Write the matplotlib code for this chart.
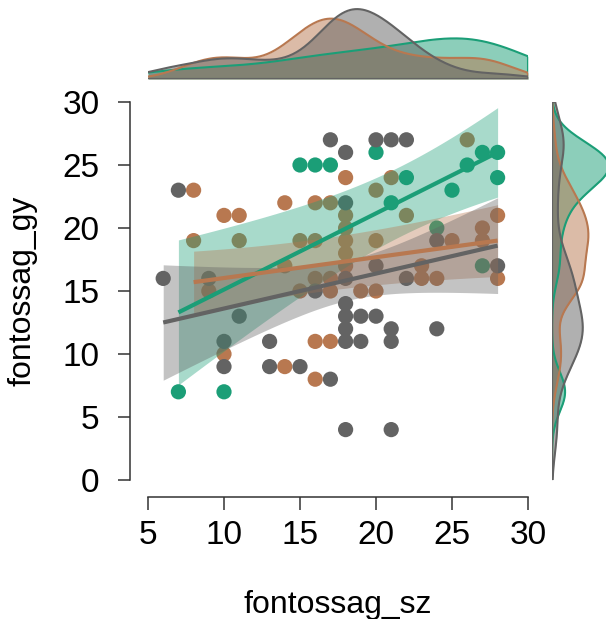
import numpy as np
import matplotlib
matplotlib.use("Agg")
import matplotlib.pyplot as plt

plt.rcParams['font.family'] = ['Liberation Sans', 'DejaVu Sans']

# scatter data (fontossag_sz, fontossag_gy) per group
green_sz = [7, 10, 15, 16, 17, 20, 21, 22, 24, 25, 26, 27, 28, 28, 27]
green_gy = [7, 7, 25, 25, 25, 26, 22, 24, 20, 23, 25, 26, 26, 24, 17]

brown_sz = [8, 10, 11, 14, 16, 17, 18, 21, 8, 11, 15, 16, 18, 18, 18, 18, 20, 20, 22, 26,
            28, 27, 27, 25, 23, 23, 24, 28, 14, 16, 17, 15, 17, 19, 20, 9, 10, 14, 16, 17, 16, 18]
brown_gy = [23, 21, 21, 22, 22, 22, 24, 24, 19, 19, 19, 19, 21, 20, 19, 18, 23, 19, 21, 27,
            21, 20, 19, 19, 17, 16, 16, 16, 17, 16, 16, 15, 15, 15, 15, 15, 10, 9, 11, 11, 8, 17]

gray_sz = [6, 7, 9, 10, 10, 11, 13, 13, 15, 17, 17, 18, 20, 21, 22, 18, 16, 18, 20, 24,
           22, 28, 18, 18, 19, 20, 18, 21, 24, 18, 19, 21, 18, 21]
gray_gy = [16, 23, 16, 11, 9, 13, 11, 9, 9, 8, 27, 26, 27, 27, 27, 22, 15, 16, 17, 19,
           16, 17, 14, 13, 13, 13, 12, 12, 12, 11, 11, 11, 4, 4]

# regression lines (value at left / right end) and CI half widths
fit_x = {'green': (7, 28), 'brown': (8, 28), 'gray': (6, 28)}
fit_y = {'green': (13.3, 26.0), 'brown': (15.7, 19.0), 'gray': (12.5, 18.6)}
ci_x0 = {'green': 21.6, 'brown': 16.0, 'gray': 18.2}
ci_mid = {'green': 2.78, 'brown': 2.1, 'gray': 1.6}
ci_end = {'green': 3.55, 'brown': 2.85, 'gray': 3.8}

cols = {'green': '#1b9e77', 'brown': '#b87850', 'gray': '#636363'}
data = {'green': (green_sz, green_gy), 'brown': (brown_sz, brown_gy), 'gray': (gray_sz, gray_gy)}
order = ['green', 'brown', 'gray']


def kde(v, grid):
    v = np.asarray(v, float)
    q75, q25 = np.percentile(v, [75, 25])
    bw = 0.9 * min(v.std(ddof=1), (q75 - q25) / 1.34) * len(v) ** -0.2
    z = (grid[:, None] - v[None, :]) / bw
    return np.exp(-0.5 * z ** 2).sum(axis=1) / (len(v) * bw * np.sqrt(2 * np.pi))


W, H = 606, 619
fig = plt.figure(figsize=(W / 100, H / 100), dpi=100)
ax = fig.add_axes([148 / W, 139 / H, 380 / W, 378 / H])

for g in order:
    ax.scatter(data[g][0], data[g][1], s=120, color=cols[g], edgecolors='none', zorder=2, clip_on=False)

for g in order:
    x = np.linspace(fit_x[g][0], fit_x[g][1], 200)
    slope = (fit_y[g][1] - fit_y[g][0]) / (fit_x[g][1] - fit_x[g][0])
    yhat = fit_y[g][0] + slope * (x - fit_x[g][0])
    k = (ci_end[g] ** 2 - ci_mid[g] ** 2) / (fit_x[g][1] - ci_x0[g]) ** 2
    hw = np.sqrt(ci_mid[g] ** 2 + k * (x - ci_x0[g]) ** 2)
    ax.fill_between(x, yhat - hw, yhat + hw, color=cols[g], alpha=0.38, lw=0, zorder=3)
for g in order:
    x = np.array(fit_x[g], float)
    ax.plot(x, fit_y[g], color=cols[g], lw=3, zorder=4, solid_capstyle='butt')

ax.set_xlim(5, 30)
ax.set_ylim(0, 30)
ax.set_xticks(range(5, 31, 5))
ax.set_yticks(range(0, 31, 5))
for s in ['top', 'right']:
    ax.spines[s].set_visible(False)
ax.spines['left'].set_position(('outward', 13))
ax.spines['bottom'].set_position(('outward', 12))
ax.spines['left'].set_bounds(0, 30)
ax.spines['bottom'].set_bounds(5, 30)
for s in ['left', 'bottom']:
    ax.spines[s].set_linewidth(1.1)
    ax.spines[s].set_color('#333333')
ax.tick_params(length=9, width=1.1, color='#333333', labelsize=24)
ax.tick_params(axis='x', pad=8)
ax.tick_params(axis='y', pad=13)
ax.set_xlabel('fontossag_sz', fontsize=23, labelpad=28)
ax.set_ylabel('fontossag_gy', fontsize=23, labelpad=18)

# marginal densities
axt = fig.add_axes([148 / W, (H - 79) / H, 380 / W, 72 / H])
gx = np.linspace(5, 30, 300)
mt = 0
for g in order:
    d = kde(data[g][0], gx)
    mt = max(mt, d.max())
    axt.fill_between(gx, 0, d, color=cols[g], alpha=0.5, lw=0)
    axt.plot(np.r_[gx, gx[::-1]], np.r_[d, np.zeros_like(d)], color=cols[g], lw=1.5)
axt.set_xlim(5, 30)
axt.set_ylim(0, mt * 1.03)
axt.axis('off')

axr = fig.add_axes([552 / W, 139 / H, 54 / W, 378 / H])
gy = np.linspace(0, 30, 300)
mr = 0
for g in order:
    d = kde(data[g][1], gy)
    mr = max(mr, d.max())
    axr.fill_betweenx(gy, 0, d, color=cols[g], alpha=0.5, lw=0)
    axr.plot(np.r_[d, np.zeros_like(d)], np.r_[gy, gy[::-1]], color=cols[g], lw=1.5)
axr.set_ylim(0, 30)
axr.set_xlim(0, mr * 0.95)
axr.axis('off')

fig.savefig('out.png', dpi=100)
